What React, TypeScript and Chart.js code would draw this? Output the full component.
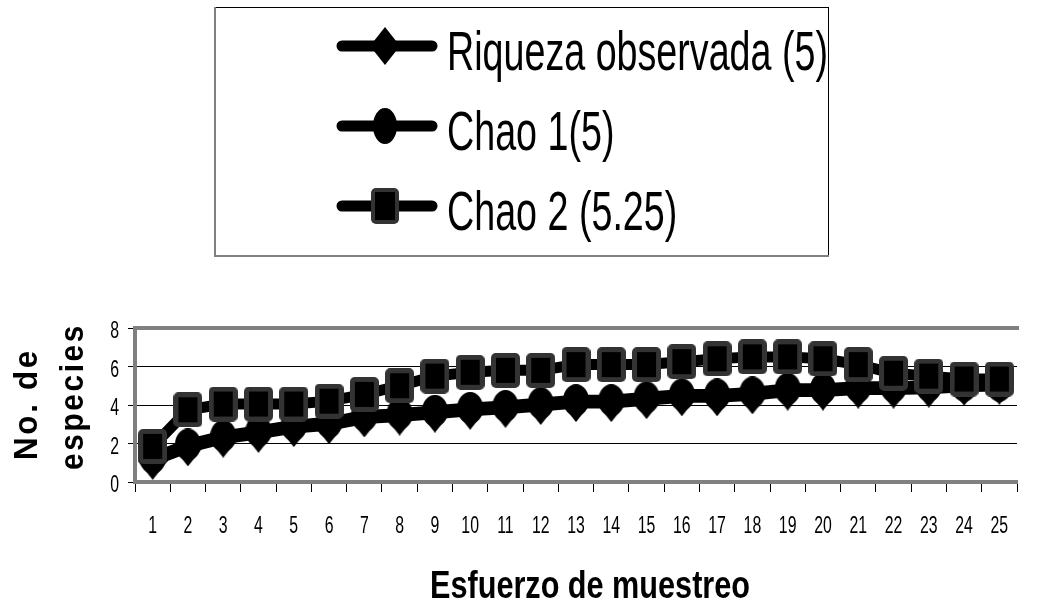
import React, { useEffect, useRef } from 'react';
import { Chart, registerables } from 'chart.js';

Chart.register(...registerables);

// ---------- data ----------
const categories = ['1', '2', '3', '4', '5', '6', '7', '8', '9', '10', '11', '12', '13', '14', '15', '16', '17', '18', '19', '20', '21', '22', '23', '24', '25'];
const observedRichness = [1.1, 1.8, 2.25, 2.5, 2.8, 2.95, 3.3, 3.4, 3.55, 3.7, 3.8, 3.95, 4.1, 4.1, 4.25, 4.4, 4.4, 4.5, 4.7, 4.7, 4.8, 4.8, 4.85, 4.95, 5.0];
const chao1 = [1.25, 1.95, 2.4, 2.65, 2.95, 3.1, 3.45, 3.55, 3.7, 3.85, 3.95, 4.1, 4.25, 4.25, 4.4, 4.55, 4.55, 4.65, 4.85, 4.85, 4.95, 4.95, 5.0, 5.0, 5.0];
const chao2 = [1.85, 3.75, 4.05, 4.05, 4.05, 4.2, 4.55, 5.0, 5.5, 5.7, 5.8, 5.8, 6.1, 6.1, 6.1, 6.25, 6.4, 6.5, 6.5, 6.4, 6.1, 5.65, 5.5, 5.35, 5.35];
const yTicks = [0, 2, 4, 6, 8];
const legendLabels = ['Riqueza observada (5)', 'Chao 1(5)', 'Chao 2 (5.25)'];
const xTitle = 'Esfuerzo de muestreo';
const yTitleLines = ['No. de', 'especies'];

const SANS = '"Liberation Sans", Arial, sans-serif';

// ---------- marker images ----------
function makeDiamond(w: number, h: number) {
  const c = document.createElement('canvas');
  c.width = w; c.height = h;
  const g = c.getContext('2d')!;
  g.fillStyle = '#000';
  g.beginPath();
  g.moveTo(w / 2, 0); g.lineTo(w, h / 2); g.lineTo(w / 2, h); g.lineTo(0, h / 2);
  g.closePath(); g.fill();
  return c;
}
function makeEllipse(w: number, h: number) {
  const c = document.createElement('canvas');
  c.width = w; c.height = h;
  const g = c.getContext('2d')!;
  g.fillStyle = '#000';
  g.beginPath();
  g.ellipse(w / 2, h / 2, w / 2, h / 2, 0, 0, Math.PI * 2);
  g.fill();
  return c;
}
function makeSquare(w: number, h: number, bw: number) {
  const c = document.createElement('canvas');
  c.width = w; c.height = h;
  const g = c.getContext('2d')!;
  g.fillStyle = '#333333';
  g.beginPath();
  (g as any).roundRect(0, 0, w, h, 5);
  g.fill();
  g.fillStyle = '#000';
  g.fillRect(bw, bw, w - 2 * bw, h - 2 * bw);
  return c;
}

const plotDiamond = makeDiamond(30, 38);
const plotCircle = makeEllipse(26, 32);
const plotSquare = makeSquare(29, 35, 5);
const legDiamond = makeDiamond(30, 38);
const legCircle = makeEllipse(24, 36);
const legSquare = makeSquare(28, 36, 4);

function drawScaled(ctx: CanvasRenderingContext2D, text: string, font: string, x: number, y: number, sx: number, sy: number, align: CanvasTextAlign) {
  ctx.save();
  ctx.font = font;
  ctx.translate(x, y);
  ctx.scale(sx, sy);
  ctx.textAlign = align;
  ctx.textBaseline = 'alphabetic';
  ctx.fillStyle = '#000';
  ctx.fillText(text, 0, 0);
  ctx.restore();
}

function fitWidth(ctx: CanvasRenderingContext2D, text: string, font: string, width: number) {
  ctx.save();
  ctx.font = font;
  const w = ctx.measureText(text).width;
  ctx.restore();
  return width / w;
}

const decorPlugin = {
  id: 'decor',
  afterDraw(chart: any) {
    const ctx: CanvasRenderingContext2D = chart.ctx;
    const area = chart.chartArea;
    // plot area top border
    ctx.save();
    ctx.strokeStyle = '#808080';
    ctx.lineWidth = 4;
    ctx.beginPath();
    ctx.moveTo(area.left - 2, area.top);
    ctx.lineTo(area.right + 2, area.top);
    ctx.stroke();
    ctx.restore();

    // tick labels (stretched narrow look), positioned by the chart's scales
    const tickFont = `22px ${SANS}`;
    const xs = chart.scales.x;
    xs.ticks.forEach((t: any, i: number) => {
      const px = xs.getPixelForTick(i);
      drawScaled(ctx, String(xs.getLabelForValue(t.value)), tickFont, px, 533, 0.72, 1.1, 'center');
    });
    const ys = chart.scales.y;
    ys.ticks.forEach((t: any) => {
      const py = ys.getPixelForValue(t.value);
      drawScaled(ctx, String(t.label), tickFont, 119, py + 10, 0.72, 1.1, 'right');
    });

    // legend box
    ctx.save();
    ctx.strokeStyle = '#000';
    ctx.lineWidth = 1;
    ctx.strokeRect(215.5, 7.5, 613, 249);
    ctx.strokeStyle = '#808080';
    ctx.lineWidth = 2;
    ctx.beginPath();
    ctx.moveTo(215, 7); ctx.lineTo(215, 256); ctx.lineTo(829, 256);
    ctx.stroke();
    ctx.restore();

    const rows = [
      { ly: 46, base: 70, img: legDiamond },
      { ly: 126, base: 150, img: legCircle },
      { ly: 206, base: 230, img: legSquare },
    ];
    const legFont = `46px ${SANS}`;
    const sxLeg = fitWidth(ctx, legendLabels[0], legFont, 381);
    rows.forEach((r, i) => {
      ctx.save();
      ctx.strokeStyle = '#000';
      ctx.lineWidth = 11;
      ctx.lineCap = 'round';
      ctx.beginPath();
      ctx.moveTo(342, r.ly);
      ctx.lineTo(432, r.ly);
      ctx.stroke();
      ctx.drawImage(r.img, 385 - r.img.width / 2, r.ly - r.img.height / 2);
      ctx.restore();
      drawScaled(ctx, legendLabels[i], legFont, 447, r.base, sxLeg, 1.21, 'left');
    });

    // x title
    const xtFont = `bold 37px ${SANS}`;
    drawScaled(ctx, xTitle, xtFont, 590, 598, fitWidth(ctx, xTitle, xtFont, 320), 1.06, 'center');

    // y title (rotated)
    const yt = [
      { x: 37, cy: 404, len: 112 },
      { x: 83, cy: 396.5, len: 147 },
    ];
    yt.forEach((t, i) => {
      ctx.save();
      ctx.font = `bold 34px ${SANS}`;
      (ctx as any).letterSpacing = '3px';
      const w = ctx.measureText(yTitleLines[i]).width;
      ctx.translate(t.x, t.cy);
      ctx.rotate(-Math.PI / 2);
      ctx.scale(t.len / w, 1);
      ctx.fillStyle = '#000';
      ctx.textAlign = 'center';
      ctx.textBaseline = 'alphabetic';
      ctx.fillText(yTitleLines[i], 0, 0);
      ctx.restore();
    });
  },
};

export default function App() {
  const ref = useRef<HTMLCanvasElement>(null);
  useEffect(() => {
    const canvas = ref.current!;
    const mk = (label: string, data: number[], img: HTMLCanvasElement, order: number) => ({
      label,
      data,
      borderColor: '#000',
      backgroundColor: '#000',
      borderWidth: 11,
      pointStyle: img as any,
      pointRadius: 16,
      tension: 0,
      order,
      clip: false as any,
    });
    const chart = new Chart(canvas, {
      type: 'line',
      data: {
        labels: categories,
        datasets: [
          mk(legendLabels[0], observedRichness, plotDiamond, 2),
          mk(legendLabels[1], chao1, plotCircle, 1),
          mk(legendLabels[2], chao2, plotSquare, 0),
        ] as any,
      },
      options: {
        responsive: false,
        animation: false,
        layout: { padding: { top: 328, left: 0, right: 1, bottom: 0 } },
        plugins: { legend: { display: false }, tooltip: { enabled: false }, title: { display: false } },
        scales: {
          x: {
            type: 'category',
            offset: true,
            grid: { offset: true, drawOnChartArea: false, drawTicks: true, tickLength: 10, color: '#000', lineWidth: 1 },
            border: { color: '#808080', width: 4 },
            ticks: { display: false, autoSkip: false, maxRotation: 0 },
            afterFit: (s: any) => { s.height = 127; },
          },
          y: {
            min: 0,
            max: 8,
            afterBuildTicks: (s: any) => { s.ticks = yTicks.map((v) => ({ value: v })); },
            grid: {
              color: (c: any) => (c.tick && c.tick.value === 8 ? 'rgba(0,0,0,0)' : '#000'),
              tickColor: '#000',
              lineWidth: 1,
              tickLength: 7,
            },
            border: { color: '#808080', width: 4 },
            ticks: { display: false },
            afterFit: (s: any) => { s.width = 135; },
          },
        },
      },
      plugins: [decorPlugin],
    });
    return () => chart.destroy();
  }, []);
  return (
    <div style={{ position: 'fixed', left: 0, top: 0, width: 1044, height: 609, background: '#fff' }}>
      <canvas ref={ref} width={1044} height={609} style={{ width: 1044, height: 609, display: 'block' }} />
    </div>
  );
}
